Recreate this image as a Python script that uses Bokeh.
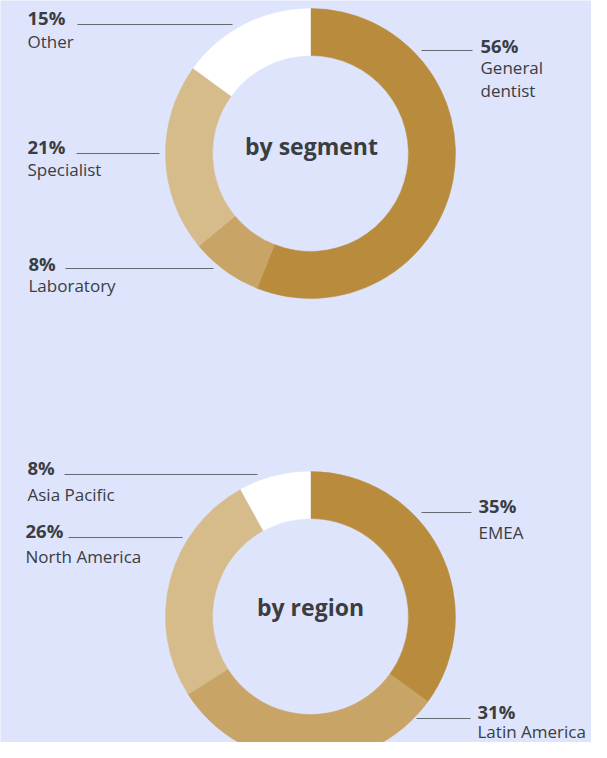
import numpy as np
from bokeh.plotting import figure
from bokeh.models import Range1d, ColumnDataSource
from bokeh.core.properties import value
from bokeh.embed import file_html
from bokeh.resources import INLINE

# ---- data ----
segment_labels = ["General\ndentist", "Laboratory", "Specialist", "Other"]
segment_values = [56, 8, 21, 15]
segment_colors = ["#b98c3d", "#c8a466", "#d6bc8b", "#ffffff"]

region_labels = ["EMEA", "Latin America", "North America", "Asia Pacific"]
region_values = [35, 31, 26, 8]
region_colors = ["#b98c3d", "#c8a466", "#d6bc8b", "#ffffff"]

# ---- layout (picture pixel coords, y down) ----
H = 758
BG = "#dde4fc"
TXT = "#3a3d41"
LINE = "#646a73"

def Y(py):
    return H - py

p = figure(width=591, height=742, output_backend="svg", toolbar_location=None,
           x_range=Range1d(0, 591), y_range=Range1d(H - 742, H),
           min_border=0, outline_line_color=None,
           background_fill_color=BG, border_fill_color=BG)
p.axis.visible = False
p.grid.visible = False

def donut(cx, cy, vals, cols):
    vals = np.array(vals, dtype=float)
    frac = vals / vals.sum()
    ends = np.cumsum(frac)
    starts = ends - frac
    start_angle = np.pi / 2 - starts * 2 * np.pi
    end_angle = np.pi / 2 - ends * 2 * np.pi
    src = ColumnDataSource(dict(start=start_angle, end=end_angle, color=cols))
    p.annular_wedge(x=cx, y=Y(cy), inner_radius=98, outer_radius=145,
                    start_angle="start", end_angle="end", direction="clock",
                    fill_color="color", line_color="color", line_width=0.5, source=src)

donut(310, 153, segment_values, segment_colors)
donut(310, 616, region_values, region_colors)

# centre titles
p.text(x=[311, 310], y=[Y(145), Y(606)], text=["by segment", "by region"],
       text_font=value("Open Sans"), text_font_style="bold", text_font_size="23px",
       text_color=TXT, text_align="center", text_baseline="middle")

# label placement: (pct_x, pct_cy, label_cy, line_x0, line_x1, line_y)
seg_pos = [
    (480, 45, 67, 421, 472, 50),
    (28, 263, 285, 65, 213, 268),
    (27, 146, 169, 76, 159, 153),
    (27, 17, 41, 77, 232, 24),
]
reg_pos = [
    (478, 505, 532, 421, 471, 512),
    (477, 711, 731, 416, 470, 718),
    (25, 530, 556, 68, 182, 537),
    (27, 467, 494, 64, 257, 474),
]

def labels(vals, names, pos):
    for v, n, (px, pcy, lcy, x0, x1, ly) in zip(vals, names, pos):
        p.text(x=[px], y=[Y(pcy)], text=[f"{v}%"], text_font=value("Open Sans"),
               text_font_style="bold", text_font_size="18.5px", text_color=TXT,
               text_align="left", text_baseline="middle")
        lines = n.split("\n")
        for i, ln in enumerate(lines):
            p.text(x=[px], y=[Y(lcy + i * 23)], text=[ln], text_font=value("Open Sans"),
                   text_font_size="17px", text_color=TXT,
                   text_align="left", text_baseline="middle")
        p.segment(x0=[x0], y0=[Y(ly)], x1=[x1], y1=[Y(ly)], line_color=LINE, line_width=1.2)

labels(segment_values, segment_labels, seg_pos)
labels(region_values, region_labels, reg_pos)

open("out.html", "w").write(file_html(p, INLINE))
